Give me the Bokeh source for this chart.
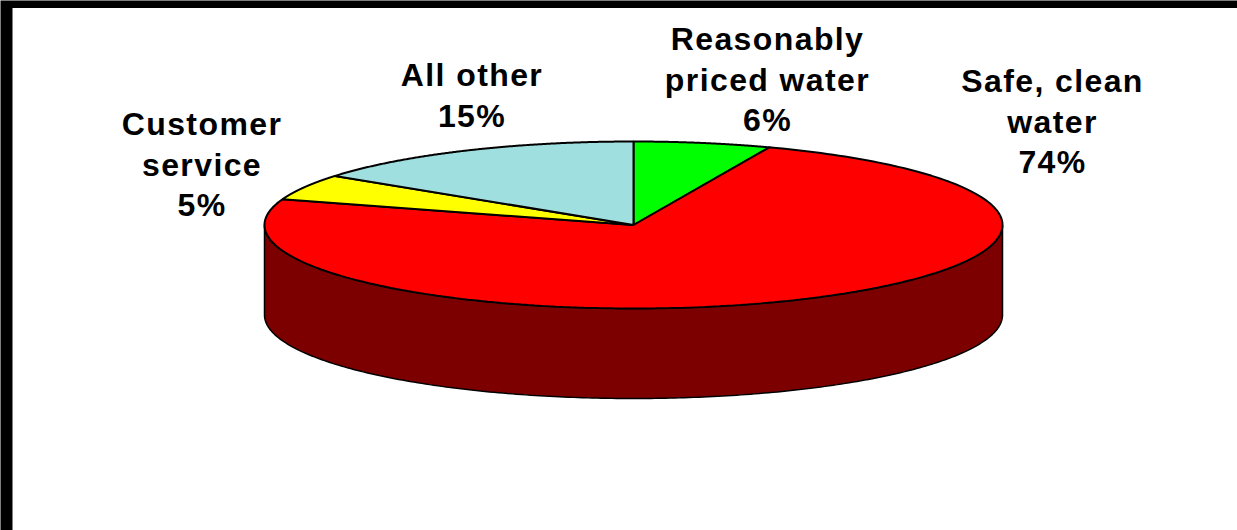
import numpy as np
from bokeh.core.properties import value
from bokeh.embed import file_html
from bokeh.models import ColumnDataSource, Range1d
from bokeh.plotting import figure
from bokeh.resources import INLINE

# Survey shares, clockwise from twelve o'clock
categories = ["Reasonably\npriced water", "Safe, clean\nwater", "Customer\nservice", "All other"]
shares = [6, 74, 5, 15]
top_colors = ["#00ff00", "#ff0000", "#ffff00", "#a0dfe0"]
side_color = "#7c0000"
label_x = [767, 1052, 201.5, 471.5]
label_first_y = [38.5, 80.5, 123.5, 74.5]

WIDTH, HEIGHT = 1237, 530
CX, CY, RX, RY, DEPTH = 633.0, 224.5, 369.0, 83.5, 90.0
TRACKING = 1.4
LINE_PITCH = 40.5


def rim(start, stop, n=240):
    """Points on the top ellipse between two clockwise angles (radians from the top)."""
    t = np.linspace(start, stop, n)
    return CX + RX * np.sin(t), CY - RY * np.cos(t)


p = figure(
    width=WIDTH, height=HEIGHT, output_backend="svg", toolbar_location=None,
    x_range=Range1d(0, WIDTH), y_range=Range1d(HEIGHT, 0),
    min_border=0, background_fill_color="black", border_fill_color="black",
    outline_line_color=None,
    styles={"letter-spacing": f"{TRACKING}px"},
)
p.axis.visible = False
p.grid.visible = False

# White slide area inside the dark frame
p.quad(left=[12], right=[WIDTH], top=[7.5], bottom=[HEIGHT], fill_color="white", line_color=None)

# Front wall of the disc
ax, ay = rim(np.pi / 2, 3 * np.pi / 2)
wall_x = np.concatenate([ax, ax[::-1]])
wall_y = np.concatenate([ay, ay[::-1] + DEPTH])
p.patch(wall_x, wall_y, fill_color=side_color, line_color="black", line_width=1.5)

# Top face slices
edges = np.cumsum([0] + shares) / sum(shares) * 2 * np.pi
xs, ys = [], []
for a, b in zip(edges[:-1], edges[1:]):
    rx, ry = rim(a, b)
    xs.append(np.concatenate([[CX], rx]).tolist())
    ys.append(np.concatenate([[CY], ry]).tolist())
p.patches(xs, ys, fill_color=top_colors, line_color="black", line_width=2)

# Category labels with their percentages, one text per line; the alignment box
# ignores the extra tracking, so each line is nudged back by half of it
tx, ty, tt = [], [], []
for cat, share, x0, y0 in zip(categories, shares, label_x, label_first_y):
    for i, line in enumerate(cat.split("\n") + [f"{share}%"]):
        tx.append(x0 - len(line) * TRACKING / 2)
        ty.append(y0 + i * LINE_PITCH)
        tt.append(line)
src = ColumnDataSource(dict(x=tx, y=ty, text=tt))
p.text(
    "x", "y", "text", source=src,
    text_font=value("Liberation Sans"), text_font_style="bold", text_font_size="32px",
    text_color="black", text_align="center", text_baseline="middle",
)

open("out.html", "w").write(file_html(p, INLINE))
